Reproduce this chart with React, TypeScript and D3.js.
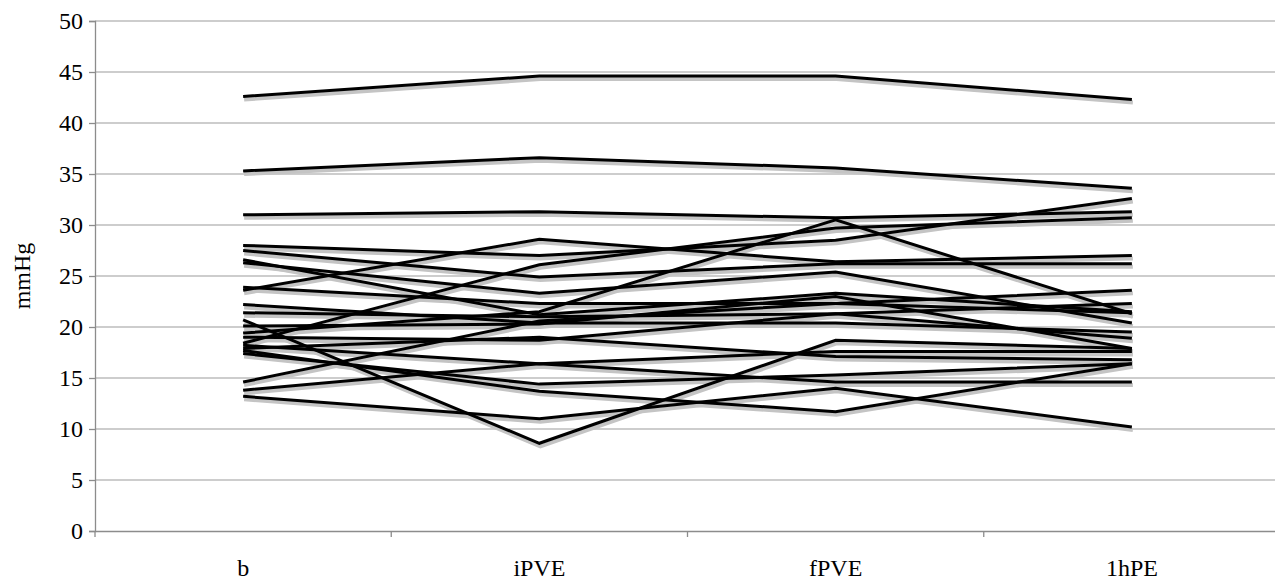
import React, { useEffect, useRef } from 'react';
import * as d3 from 'd3';

const categories = ['b', 'iPVE', 'fPVE', '1hPE'];
const yTicks = [0, 5, 10, 15, 20, 25, 30, 35, 40, 45, 50];

// one row per subject: b, iPVE, fPVE, 1hPE (mmHg)
const s01 = [42.6, 44.6, 44.6, 42.3];
const s02 = [35.3, 36.6, 35.6, 33.6];
const s03 = [31.0, 31.3, 30.7, 31.3];
const s04 = [28.0, 27.0, 28.5, 32.6];
const s05 = [23.6, 28.6, 26.4, 27.0];
const s06 = [26.6, 21.2, 23.3, 21.5];
const s07 = [27.5, 24.9, 26.2, 26.2];
const s08 = [26.3, 23.3, 25.4, 20.4];
const s09 = [18.4, 26.1, 29.7, 30.7];
const s10 = [23.9, 22.3, 22.3, 21.4];
const s11 = [22.2, 20.4, 20.4, 19.5];
const s12 = [21.4, 21.0, 21.3, 18.9];
const s13 = [20.7, 8.6, 18.7, 17.9];
const s14 = [14.6, 20.6, 22.3, 23.6];
const s15 = [19.4, 21.5, 30.5, 21.3];
const s16 = [19.0, 18.7, 21.3, 22.3];
const s17 = [18.2, 16.4, 17.6, 17.6];
const s18 = [17.9, 19.0, 17.1, 16.8];
const s19 = [17.4, 14.4, 15.3, 16.4];
const s20 = [13.8, 16.4, 14.6, 14.6];
const s21 = [13.2, 11.0, 14.0, 10.2];
const s22 = [17.7, 13.7, 11.7, 16.4];
const s23 = [20.1, 20.3, 23.0, 17.9];

const subjects = [s01, s02, s03, s04, s05, s06, s07, s08, s09, s10, s11, s12,
  s13, s14, s15, s16, s17, s18, s19, s20, s21, s22, s23];

const App: React.FC = () => {
  const svgRef = useRef<SVGSVGElement>(null);
  const width = 1275;
  const height = 585;

  useEffect(() => {
    if (!svgRef.current) return;
    const svg = d3.select(svgRef.current);
    svg.selectAll('*').remove();

    const left = 95, right = 1280, top = 21, bottom = 531;
    const font = '"Liberation Serif", "Times New Roman", serif';

    const x = d3.scaleBand<string>().domain(categories).range([left, right]);
    const y = d3.scaleLinear().domain([0, 50]).range([bottom, top]);
    const cx = (c: string) => (x(c) as number) + x.bandwidth() / 2;

    // gridlines
    svg.append('g')
      .selectAll('line')
      .data(yTicks.filter(t => t > 0))
      .enter()
      .append('line')
      .attr('x1', left)
      .attr('x2', right)
      .attr('y1', d => y(d))
      .attr('y2', d => y(d))
      .attr('stroke', '#bdbdbd')
      .attr('stroke-width', 1.3);

    // y axis
    const yAxis = svg.append('g')
      .attr('transform', `translate(${left},0)`)
      .call(d3.axisLeft(y).tickValues(yTicks).tickSize(6).tickPadding(6));
    yAxis.select('.domain').attr('stroke', '#8c8c8c').attr('stroke-width', 1.3);
    yAxis.selectAll('.tick line').attr('stroke', '#8c8c8c').attr('stroke-width', 1.3);
    yAxis.selectAll('.tick text')
      .style('font-family', font)
      .style('font-size', '24px')
      .attr('fill', '#000');

    // x axis
    const xAxis = svg.append('g')
      .attr('transform', `translate(0,${bottom})`)
      .call(d3.axisBottom(x).tickSize(0).tickPadding(28));
    xAxis.select('.domain').attr('stroke', '#8c8c8c').attr('stroke-width', 1.3);
    xAxis.selectAll('.tick text')
      .style('font-family', font)
      .style('font-size', '24px')
      .attr('fill', '#000');
    xAxis.selectAll('line.sep')
      .data(categories)
      .enter()
      .append('line')
      .attr('class', 'sep')
      .attr('x1', d => x(d) as number)
      .attr('x2', d => x(d) as number)
      .attr('y1', 0)
      .attr('y2', 6)
      .attr('stroke', '#8c8c8c')
      .attr('stroke-width', 1.3);

    svg.append('text')
      .attr('transform', `translate(30,${(top + bottom) / 2}) rotate(-90)`)
      .attr('text-anchor', 'middle')
      .style('font-family', font)
      .style('font-size', '24px')
      .text('mmHg');

    const line = d3.line<number>()
      .x((_, i) => cx(categories[i]))
      .y(d => y(d));

    // shadows first, then the lines on top
    svg.append('g')
      .attr('transform', 'translate(1,3)')
      .selectAll('path')
      .data(subjects)
      .enter()
      .append('path')
      .attr('d', d => line(d))
      .attr('fill', 'none')
      .attr('stroke', '#c4c4c4')
      .attr('stroke-width', 4);

    svg.append('g')
      .selectAll('path')
      .data(subjects)
      .enter()
      .append('path')
      .attr('d', d => line(d))
      .attr('fill', 'none')
      .attr('stroke', '#000')
      .attr('stroke-width', 3)
      .attr('stroke-linejoin', 'miter');
  }, []);

  return (
    <svg
      ref={svgRef}
      width={width}
      height={height}
      style={{ position: 'absolute', left: 0, top: 0, background: '#fff' }}
    ></svg>
  );
};

export default App;
